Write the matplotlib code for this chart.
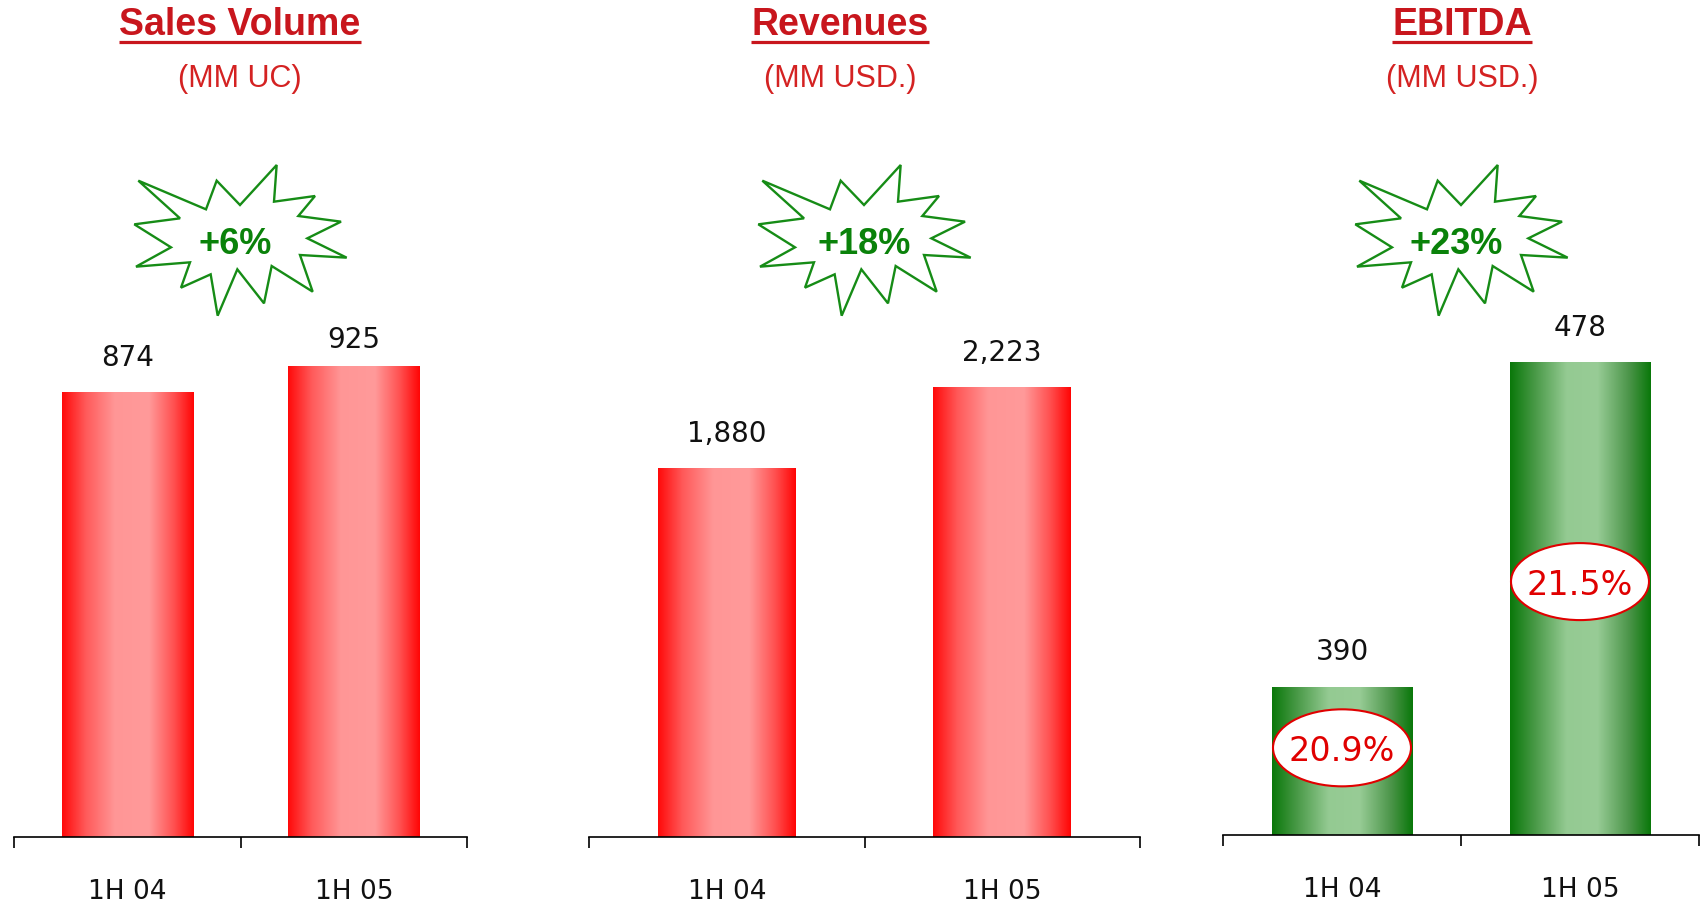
import matplotlib
matplotlib.use('Agg')
import matplotlib.pyplot as plt
import numpy as np
from matplotlib.colors import LinearSegmentedColormap
from matplotlib.patches import Polygon, Ellipse
from matplotlib.transforms import IdentityTransform
from matplotlib.lines import Line2D

# data
titles = ['Sales Volume', 'Revenues', 'EBITDA']
units = ['(MM UC)', '(MM USD.)', '(MM USD.)']
periods = ['1H 04', '1H 05']
sales_volume = [874, 925]
revenues = [1880, 2223]
ebitda = [390, 478]
growth = ['+6%', '+18%', '+23%']
ebitda_margin = ['20.9%', '21.5%']

W, H = 1702, 902
fig = plt.figure(figsize=(W / 100, H / 100), dpi=100)
ident = IdentityTransform()


def px(x, y):
    # top-left pixel -> display coords
    return x, H - y


red_cm = LinearSegmentedColormap.from_list(
    'redbar', [(0, '#ff0a0a'), (0.18, '#ff5a5a'), (0.4, '#ff9696'), (0.66, '#ff9a9a'),
               (0.85, '#ff5050'), (1, '#ff0505')])
green_cm = LinearSegmentedColormap.from_list(
    'greenbar', [(0, '#0a780a'), (0.18, '#4a9a48'), (0.4, '#94ca92'), (0.62, '#98cc96'),
                 (0.85, '#4a9448'), (1, '#0a780a')])

# panel layout: left, right, bottom, top in pixels; y limits; bar width
panels = [
    dict(vals=sales_volume, box=(14, 467, 837, 100), ylim=(0, 1450), bw=0.58,
         cmap=red_cm, title_x=240, lab_off=[27, 19], star_dx=0),
    dict(vals=revenues, box=(589, 1140, 837, 100), ylim=(340, 3424), bw=0.50,
         cmap=red_cm, title_x=840, lab_off=[27, 26], star_dx=624),
    dict(vals=ebitda, box=(1223, 1699, 835, 100), ylim=(350, 549), bw=0.59,
         cmap=green_cm, title_x=1462, lab_off=[27, 26], star_dx=1221),
]

# explosion shape outline (pixel coords of first panel)
star_pts = [(55, 92), (258, 178), (290, 92), (360, 165), (470, 45), (462, 155),
            (585, 138), (535, 198), (663, 215), (562, 265), (680, 323), (540, 315),
            (578, 425), (455, 348), (432, 460), (352, 358), (293, 497), (272, 373),
            (183, 413), (210, 337), (48, 350), (153, 292), (43, 223), (180, 205)]
star_pts = [(120 + a / 3, 150 + b / 3) for a, b in star_pts]

grad = np.linspace(0, 1, 256).reshape(1, -1)
axes = []
for k, p in enumerate(panels):
    l, r, b, t = p['box']
    ax = fig.add_axes([l / W, 1 - b / H, (r - l) / W, (b - t) / H])
    axes.append(ax)
    bars = ax.bar(range(len(periods)), p['vals'], width=p['bw'], color='none')
    for bar in bars:
        x0 = bar.get_x()
        ax.imshow(grad, cmap=p['cmap'], aspect='auto', zorder=2,
                  extent=[x0, x0 + bar.get_width(), 0, bar.get_height()])
    ax.set_xlim(-0.5, len(periods) - 0.5)
    ax.set_ylim(*p['ylim'])
    for s in ['left', 'right', 'top']:
        ax.spines[s].set_visible(False)
    ax.spines['bottom'].set_linewidth(1.2)
    ax.spines['bottom'].set_zorder(5)
    ax.set_yticks([])
    ax.set_xticks(np.arange(len(periods) + 1) - 0.5)
    ax.set_xticklabels([])
    ax.set_xticks(range(len(periods)), minor=True)
    ax.set_xticklabels(periods, minor=True, fontsize=19, color='#111111')
    ax.tick_params(axis='x', which='major', length=8, width=1.2, direction='out')
    ax.tick_params(axis='x', which='minor', length=0, pad=30)
    ax.patch.set_visible(False)

    for i, v in enumerate(p['vals']):
        ax.annotate(f'{v:,}', (i, v), xytext=(0, p['lab_off'][i] * 0.72),
                    textcoords='offset points', ha='center', va='baseline',
                    fontsize=20, color='#111111')

    # titles
    tt = fig.text(*px(p['title_x'], 35), titles[k], transform=ident, ha='center',
                  va='baseline', fontsize=27, fontweight='bold', color='#c8161d',
                  family='Liberation Sans')
    fig.text(*px(p['title_x'], 87), units[k], transform=ident, ha='center',
             va='baseline', fontsize=22, color='#d42222', family='Liberation Sans')
    fig.canvas.draw()
    bb = tt.get_window_extent(fig.canvas.get_renderer())
    fig.add_artist(Line2D([bb.x0, bb.x1], [H - 41.5, H - 41.5], transform=ident,
                          color='#c8161d', lw=2.3, solid_capstyle='butt'))

    # growth burst
    pts = [px(x + p['star_dx'], y) for x, y in star_pts]
    fig.add_artist(Polygon(pts, closed=True, transform=ident, facecolor='white',
                           edgecolor='#168c16', lw=1.7, joinstyle='miter'))
    fig.text(*px(235 + p['star_dx'] + (5 if k == 1 else 0), 254.5), growth[k],
             transform=ident, ha='center', va='baseline', fontsize=26,
             fontweight='bold', color='#0a820a', family='Liberation Sans')

# EBITDA margin ellipses
ax = axes[2]
ylo = panels[2]['ylim'][0]
ell_frac = [0.59, 0.536]
for i, v in enumerate(ebitda):
    cx, cy = ax.transData.transform((i, ylo + ell_frac[i] * (v - ylo)))
    fig.add_artist(Ellipse((cx, cy), 138, 77, transform=ident, facecolor='white',
                           edgecolor='#e00000', lw=1.5, zorder=6))
    fig.text(cx, cy, ebitda_margin[i], transform=ident, ha='center',
             va='center_baseline', fontsize=24, color='#e00000', zorder=7)

fig.savefig('out.png', dpi=100)
